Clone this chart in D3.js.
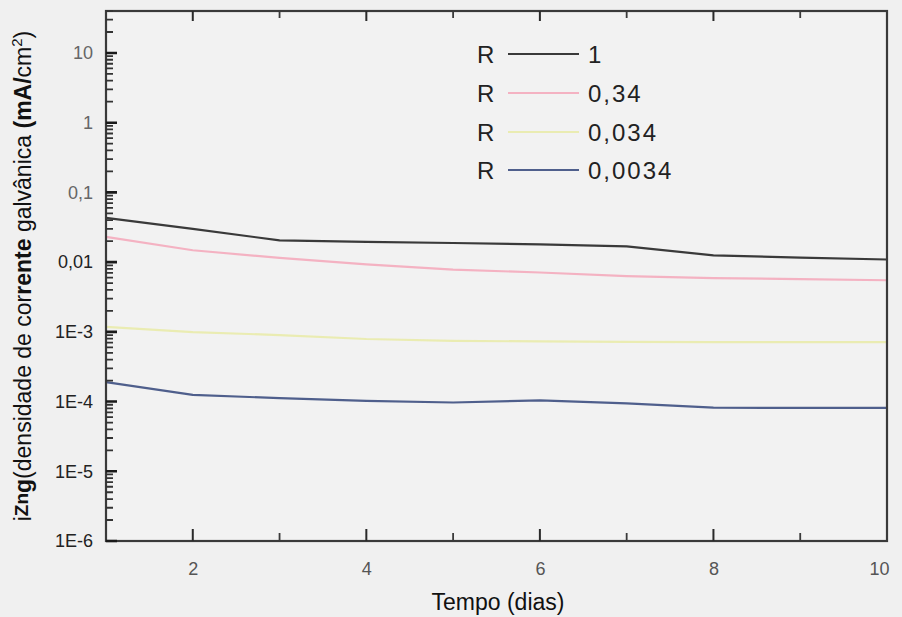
<!DOCTYPE html>
<html>
<head>
<meta charset="utf-8">
<script src="https://cdn.jsdelivr.net/npm/d3@7"></script>
<style>
  html, body { margin: 0; padding: 0; background: #f0f0f0; }
  svg { display: block; font-family: "Liberation Sans", Arial, sans-serif; }
</style>
</head>
<body>
<svg id="chart" width="902" height="617"></svg>
<script>
// Days of measurement
const days = [1, 2, 3, 4, 5, 6, 7, 8, 9, 10];

// Galvanic current density (mA/cm²) per area ratio R
const seriesR1     = [0.043, 0.030, 0.0205, 0.0195, 0.0188, 0.018, 0.0168, 0.0125, 0.0116, 0.0109];
const seriesR034   = [0.023, 0.0148, 0.0115, 0.0093, 0.0078, 0.0071, 0.0063, 0.0059, 0.0057, 0.0055];
const seriesR0034  = [0.00118, 0.00099, 0.0009, 0.00079, 0.00074, 0.00073, 0.00072, 0.00071, 0.00071, 0.00071];
const seriesR00034 = [0.00019, 0.000125, 0.000112, 0.000102, 0.000097, 0.000104, 0.000094, 0.000082, 0.000081, 0.000081];

const legendLabels = ["1", "0,34", "0,034", "0,0034"];
const seriesColors = ["#3a3a3a", "#f4b2c2", "#eaecb2", "#4f5f8c"];

const xTicks = [2, 4, 6, 8, 10];
const xMinorTicks = [3, 5, 7, 9];
const yTicks = [1e-6, 1e-5, 1e-4, 1e-3, 0.01, 0.1, 1, 10];
const yTickLabels = ["1E-6", "1E-5", "1E-4", "1E-3", "0,01", "0,1", "1", "10"];

const allSeries = [seriesR1, seriesR034, seriesR0034, seriesR00034];

const svg = d3.select("#chart");
const plotLeft = 106, plotRight = 887, plotTop = 11, plotBottom = 541;

const x = d3.scaleLinear().domain([1, 10]).range([plotLeft, plotRight]);
const y = d3.scaleLog().domain([1e-6, 40]).range([plotBottom, plotTop]);

// minor ticks of the log axis: 2..9 within every decade
const yMinorTicks = [];
yTicks.forEach(dec => {
  for (let m = 2; m <= 9; m++) {
    const v = m * dec;
    if (v <= y.domain()[1]) yMinorTicks.push(v);
  }
});

// plot background
svg.append("rect")
  .attr("x", plotLeft).attr("y", plotTop)
  .attr("width", plotRight - plotLeft).attr("height", plotBottom - plotTop)
  .attr("fill", "#f2f2f2");

// series lines
const line = d3.line()
  .x((d, i) => x(days[i]))
  .y(d => y(d));

svg.append("g").selectAll("path").data(allSeries).join("path")
  .attr("d", d => line(d))
  .attr("fill", "none")
  .attr("stroke", (d, i) => seriesColors[i])
  .attr("stroke-width", 2.2)
  .attr("stroke-linejoin", "round");

// frame
svg.append("rect")
  .attr("x", plotLeft).attr("y", plotTop)
  .attr("width", plotRight - plotLeft).attr("height", plotBottom - plotTop)
  .attr("fill", "none").attr("stroke", "#3a3a3a").attr("stroke-width", 2.2);

// tick marks, drawn as plain paths so they sit on top of everything
function tickPath(values, pos, len, horizontal) {
  return values.map(v => horizontal
    ? `M${pos},${y(v)}h${len}`
    : `M${x(v)},${pos}v${len}`).join("");
}
const tickGroup = svg.append("g").attr("fill", "none");
tickGroup.append("path")
  .attr("d", tickPath(xTicks.filter(d => d < 10), plotBottom, -12, false) +
             tickPath(xTicks.filter(d => d < 10), plotTop, 10, false))
  .attr("stroke", "#2a2a2a").attr("stroke-width", 2);
tickGroup.append("path")
  .attr("d", tickPath(xMinorTicks, plotBottom, -8, false) +
             tickPath(xMinorTicks, plotTop, 7, false))
  .attr("stroke", "#3a3a3a").attr("stroke-width", 1.8);
tickGroup.append("path")
  .attr("d", tickPath(yTicks, plotLeft, 11, true))
  .attr("stroke", "#1a1a1a").attr("stroke-width", 2.6);
tickGroup.append("path")
  .attr("d", tickPath(yMinorTicks, plotLeft, 7, true))
  .attr("stroke", "#333").attr("stroke-width", 1.8);

// tick labels through the library's axes (tick lines hidden, drawn above)
svg.append("g")
  .attr("transform", `translate(0,${plotBottom})`)
  .call(d3.axisBottom(x).tickValues(xTicks).tickSize(0).tickPadding(21).tickFormat(d3.format("d")))
  .call(g => g.select(".domain").remove())
  .call(g => g.selectAll(".tick line").remove())
  .call(g => g.selectAll(".tick text")
    .attr("font-size", 18).attr("fill", "#555")
    .attr("font-family", "Liberation Sans, Arial, sans-serif"))
  .call(g => g.selectAll(".tick").filter(d => d === 10).select("text").attr("dx", -8));

svg.append("g")
  .attr("transform", `translate(${plotLeft},0)`)
  .call(d3.axisLeft(y).tickValues(yTicks).tickSize(0).tickPadding(13)
    .tickFormat(d => yTickLabels[yTicks.indexOf(d)]))
  .call(g => g.select(".domain").remove())
  .call(g => g.selectAll(".tick line").remove())
  .call(g => g.selectAll(".tick text")
    .attr("font-size", 18)
    .attr("fill", d => d >= 0.1 ? "#666" : "#222")
    .attr("font-family", "Liberation Sans, Arial, sans-serif"));

// axis titles
svg.append("text")
  .attr("x", 498).attr("y", 610)
  .attr("text-anchor", "middle")
  .attr("font-size", 23).attr("fill", "#111")
  .text("Tempo (dias)");

const yTitle = svg.append("text")
  .attr("transform", "translate(31,276) rotate(-90)")
  .attr("text-anchor", "middle")
  .attr("font-size", 23).attr("fill", "#111");
yTitle.append("tspan").text("i");
yTitle.append("tspan").attr("font-size", 19).attr("dy", -3).attr("font-weight", "bold").text("Zn");
yTitle.append("tspan").attr("dy", 3).attr("font-weight", "bold").text("g");
yTitle.append("tspan").text("(densidade de cor");
yTitle.append("tspan").attr("font-weight", "bold").text("rente");
yTitle.append("tspan").text(" galvânica ");
yTitle.append("tspan").attr("font-weight", "bold").text("(mA/");
yTitle.append("tspan").text("cm");
yTitle.append("tspan").attr("font-size", 15).attr("dy", -9).text("2");
yTitle.append("tspan").attr("dy", 9).text(")");

// legend
const legend = svg.append("g");
const rowY = [54, 93, 132, 170];
legendLabels.forEach((lab, i) => {
  legend.append("text")
    .attr("x", 477).attr("y", rowY[i] + 9)
    .attr("font-size", 24).attr("fill", "#222")
    .text("R");
  legend.append("line")
    .attr("x1", 508).attr("x2", 579)
    .attr("y1", rowY[i]).attr("y2", rowY[i])
    .attr("stroke", seriesColors[i]).attr("stroke-width", 2);
  legend.append("text")
    .attr("x", 588).attr("y", rowY[i] + 9)
    .attr("font-size", 24).attr("letter-spacing", 2).attr("fill", "#222")
    .text(lab);
});
</script>
</body>
</html>
